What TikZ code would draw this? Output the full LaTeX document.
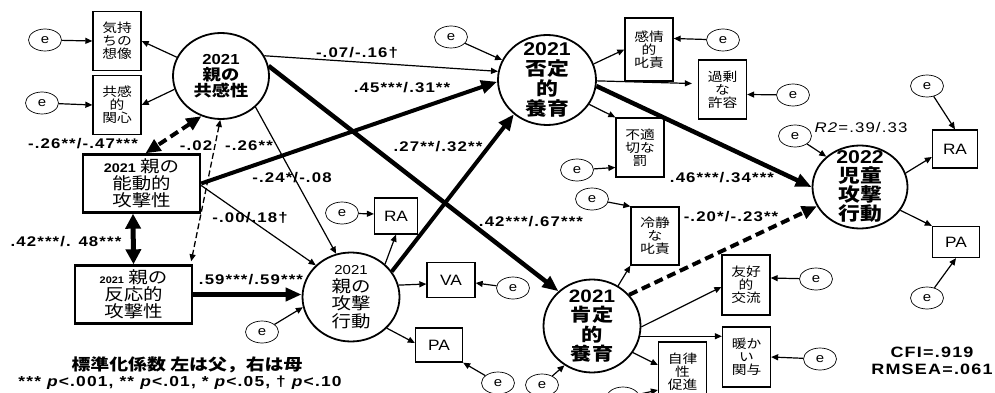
\documentclass[tikz,border=0pt]{standalone}
\usepackage{fontspec}
\setmainfont{Liberation Sans}
\newfontfamily\jp{Noto Sans CJK JP}[FakeStretch=1.18]
\newfontfamily\ar{Liberation Sans}[FakeStretch=1.15]
\newfontfamily\lb{Liberation Sans}[FakeStretch=1.2,LetterSpace=8]
\usetikzlibrary{arrows.meta,shapes.geometric}
\newcommand\fs[2]{\fontsize{#1}{#2}\selectfont}
\tikzset{
  ee/.style={ellipse, draw, line width=0.7pt, minimum width=33pt, minimum height=22pt, inner sep=0pt, font=\ar\fs{13}{14}},
  sbox/.style={draw, line width=1.3pt, minimum width=48pt, minimum height=59pt, inner sep=0pt, align=center, font=\jp\fs{12.5}{13}},
  lbox/.style={draw, line width=2.4pt, minimum width=117pt, minimum height=58pt, inner sep=0pt, align=center},
  lat/.style={draw, ellipse, line width=1.8pt, inner sep=0pt},
  obox/.style={draw, line width=1.3pt, minimum width=45pt, minimum height=36pt, inner sep=0pt, font=\ar\fs{15}{16}},
  lab/.style={font=\lb\bfseries\fs{14}{15}, inner sep=0pt},
  thinA/.style={line width=1.2pt, -{Triangle[length=7pt,width=6pt]}},
  thickA/.style={line width=4.5pt, -{Triangle[length=16pt,width=13pt]}},
  dthickA/.style={line width=4pt, dash pattern=on 9pt off 5pt, -{Triangle[length=15pt,width=13pt]}},
  dthick/.style={line width=4pt, dash pattern=on 9pt off 5pt, {Triangle[length=15pt,width=13pt]}-{Triangle[length=15pt,width=13pt]}},
  dthin/.style={line width=1.3pt, dash pattern=on 6pt off 3pt, {Triangle[length=7pt,width=6pt]}-{Triangle[length=7pt,width=6pt]}},
  bothThick/.style={line width=5pt, {Triangle[length=15pt,width=15pt]}-{Triangle[length=15pt,width=15pt]}},
}
\begin{document}
\begin{tikzpicture}[x=1pt,y=-1pt]
\useasboundingbox (0,0) rectangle (995,393);
\fill[white] (0,0) rectangle (995,393);
\clip (0,0) rectangle (995,393);

% left block
\node[ee] (e1) at (45,40) {e};
\node[ee] (e2) at (42,103) {e};
\node[sbox] (kimo) at (117,41) {気持\\ちの\\想像};
\node[sbox] (kyo) at (117,105) {共感\\的\\関心};
\node[lat, minimum width=96pt, minimum height=86pt,
  label={[align=center, font=\jp\bfseries\fs{15.5}{16}]center:{{\ar\bfseries\fs{14.5}{16}2021}\\親の\\共感性}}] (emp) at (221,76) {};
\node[lbox, font=\jp\fs{16.5}{17}] (noudou) at (141.5,183.5) {{\ar\bfseries\fs{12.5}{17}2021} 親の\\能動的\\攻撃性};
\node[lbox, font=\jp\fs{16.5}{17}] (hannou) at (133.5,294.5) {{\ar\bfseries\fs{9.5}{17}2021} 親の\\反応的\\攻撃性};

% parent aggression
\node[lat, minimum width=97pt, minimum height=89pt,
  label={[align=center, font=\jp\fs{16.5}{17.5}]center:{{\ar\fs{13}{14}2021}\\親の\\攻撃\\行動}}] (kougeki) at (351,297) {};
\node[ee] (eK) at (262,332) {e};
\node[obox, minimum width=43pt] (RA1) at (396,216) {RA};
\node[ee] (eRA1) at (342,213) {e};
\node[obox, minimum width=48pt, minimum height=35pt] (VA) at (451,280) {VA};
\node[ee] (eVA) at (513,288) {e};
\node[obox, minimum width=47pt, minimum height=34pt] (PA1) at (439,345) {PA};
\node[ee] (ePA1) at (498,383) {e};

% negative parenting
\node[lat, minimum width=98pt, minimum height=90pt,
  label={[align=center, font=\jp\bfseries\fs{18.5}{20}]center:{{\ar\bfseries 2021}\\否定\\的\\養育}}] (hitei) at (547,80) {};
\node[ee] (eH) at (451,37) {e};
\node[sbox, minimum height=63pt] (kanjo) at (649,49.5) {感情\\的\\叱責};
\node[ee] (eKanjo) at (723,40) {e};
\node[sbox] (kajo) at (722.5,89.5) {過剰\\な\\許容};
\node[ee] (eKajo) at (793,95) {e};
\node[sbox] (futeki) at (640,147.5) {不適\\切な\\罰};
\node[ee] (eFuteki) at (577,170) {e};
\node[sbox, minimum height=58pt] (reisei) at (655,236) {冷静\\な\\叱責};
\node[ee] (eReisei) at (592,199) {e};

% positive parenting
\node[lat, minimum width=97pt, minimum height=93pt,
  label={[align=center, font=\jp\bfseries\fs{18}{19.5}]center:{{\ar\bfseries 2021}\\肯定\\的\\養育}}] (kotei) at (592,326) {};
\node[ee] (eKotei) at (542,385) {e};
\node[sbox, minimum height=60pt] (yuko) at (746,285) {友好\\的\\交流};
\node[ee] (eYuko) at (816,279) {e};
\node[sbox, minimum height=60pt] (atataka) at (746.5,357) {暖か\\い\\関与};
\node[ee] (eAta) at (820,359) {e};
\node[sbox, minimum height=60pt] (jiritsu) at (682.5,372) {自律\\性\\促進};
\node[ee] (eJir) at (623,398) {e};

% child aggression
\node[lat, minimum width=95pt, minimum height=83pt,
  label={[align=center, font=\jp\bfseries\fs{18.5}{19}]center:{{\ar\bfseries 2022}\\児童\\攻撃\\行動}}] (jido) at (860,187) {};
\node[ee] (eJ) at (795,136) {e};
\node[obox, minimum width=45pt, minimum height=38pt] (RA2) at (955,149) {RA};
\node[ee] (eRA2) at (927,86) {e};
\node[obox, minimum width=47pt, minimum height=31pt] (PA2) at (956,242) {PA};
\node[ee] (ePA2) at (927,298) {e};

% labels
\node[lab] (l1) at (83,144) {-.26**/-.47***};
\node[lab] (l2) at (66,242) {.42***/. 48***};
\node[lab] (l3) at (196,146) {-.02};
\node[lab] (l4) at (249,146) {-.26**};
\node[lab] (l5) at (292,178) {-.24*/-.08};
\node[lab] (l6) at (250,218) {-.00/.18†};
\node[lab] (l7) at (251,280) {.59***/.59***};
\node[lab] (l8) at (357,53) {-.07/-.16†};
\node[lab] (l9) at (402,88) {.45***/.31**};
\node[lab] (l10) at (438,147) {.27**/.32**};
\node[lab] (l11) at (531,222) {.42***/.67***};
\node[lab] (l12) at (722,178) {.46***/.34***};
\node[lab] (l13) at (731,217) {-.20*/-.23**};
\node[lab, font=\lb\fs{14}{15}] (l14) at (861,127) {\textit{R2}=.39/.33};
\node[lab, font=\lb\bfseries\fs{15}{16}] (cfi) at (932,352) {CFI=.919};
\node[lab, font=\lb\bfseries\fs{15}{16}] (rmsea) at (932,369) {RMSEA=.061};
\node[inner sep=0pt, font=\jp\bfseries\fs{16}{17}] (leg1) at (187,365) {標準化係数 左は父，右は母};
\node[lab, font=\lb\bfseries\fs{14.5}{15}] (leg2) at (180,383) {*** \textit{p}<.001, ** \textit{p}<.01, * \textit{p}<.05, † \textit{p}<.10};

% connectors
\draw[thinA] (e1) -- (kimo.west);
\draw[thinA] (e2) -- (kyo.west);
\draw[thinA] (emp.157) -- (kimo.east);
\draw[thinA] (emp.196) -- (kyo.east);
\draw[dthick] (emp.244) -- ([xshift=4pt]noudou.north);
\draw[dthin] (emp.269) -- ([xshift=-2pt,yshift=3pt]hannou.north east);
\draw[thinA] (emp.25) -- (hitei.170);
\draw[thickA] (emp.12) -- (kotei.134);
\draw[thinA] (emp.318) -- (kougeki.109);
\draw[thickA, line width=4pt] (noudou.east) -- (hitei.182);
\draw[thinA] ([yshift=-2pt]noudou.east) -- (kougeki.138);
\draw[bothThick] ([xshift=-8.5pt]noudou.south) -- (hannou.north);
\draw[thickA] (hannou.east) -- (hannou.east -| kougeki.west);
\draw[thinA] (eK) -- (kougeki.192);
\draw[thinA] (eRA1) -- ([yshift=2pt]RA1.west);
\draw[thinA] (kougeki.44) -- (RA1.south);
\draw[thinA] (kougeki.14) -- ([yshift=-4pt]VA.west);
\draw[thinA] (eVA) -- ([yshift=-3pt]VA.east);
\draw[thinA] (kougeki.319) -- ([yshift=2pt]PA1.west);
\draw[thinA] (ePA1) -- (PA1.south east);
\draw[thickA, line width=4pt] (kougeki.32) -- (hitei.226);
\draw[thinA] (eH) -- (hitei.156);
\draw[thinA] (hitei.19) -- (kanjo.west);
\draw[thinA] (hitei.359) -- ([xshift=-6pt,yshift=6pt]kajo.west);
\draw[thinA] (hitei.330) -- (futeki.north west);
\draw[thickA] (hitei.353) -- (jido.180);
\draw[thinA] (eKanjo) -- ([yshift=11pt]kanjo.east);
\draw[thinA] (eKajo) -- ([yshift=-5pt]kajo.east);
\draw[thinA] (eFuteki) -- ([yshift=-20pt]futeki.west);
\draw[thinA] (eReisei) -- (reisei.north west);
\draw[thinA] (kotei.57) -- (reisei.south west);
\draw[dthickA] (kotei.40) -- (jido.204);
\draw[thinA] (kotei.359) -- ([yshift=-2pt]yuko.west);
\draw[thinA] (kotei.348) -- (kotei.348 -| atataka.west);
\draw[thinA] (kotei.327) -- ([yshift=7pt]jiritsu.west);
\draw[thinA] (eKotei) -- (kotei.235);
\draw[thinA] (eJir) -- ([yshift=-18pt]jiritsu.west);
\draw[thinA] (eYuko) -- ([yshift=7pt]yuko.east);
\draw[thinA] (eAta) -- (atataka.east);
\draw[thinA] (eJ) -- (jido.138);
\draw[thinA] (jido.17) -- ([yshift=-8pt]RA2.west);
\draw[thinA] (jido.330) -- (PA2.north west);
\draw[thinA] (eRA2) -- (RA2.north);
\draw[thinA] (ePA2) -- (PA2.south);
\end{tikzpicture}
\end{document}
